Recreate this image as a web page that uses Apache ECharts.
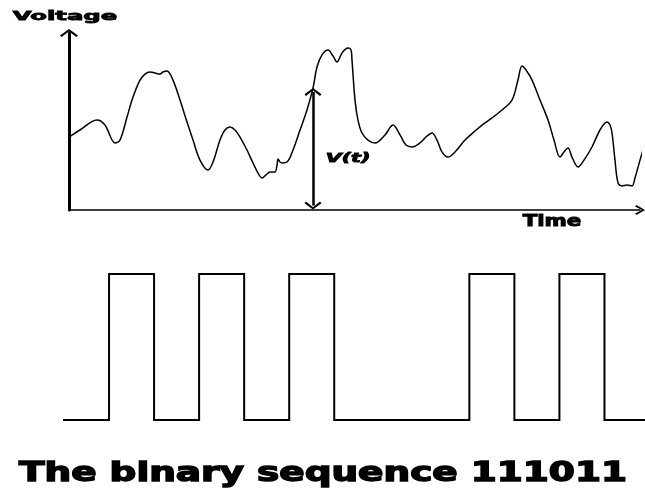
<!DOCTYPE html>
<html>
<head>
<meta charset="utf-8">
<script src="https://cdn.jsdelivr.net/npm/echarts@6/dist/echarts.min.js"></script>
<style>
html,body{margin:0;padding:0;background:#fff;}
#chart{width:645px;height:494px;}
</style>
</head>
<body>
<div id="chart"></div>
<script>
// ---- Data ----
const timeValues = [0,1.93,4.9,6.3,8.06,8.93,10.16,11.21,12.43,13.31,14.19,15.06,15.94,16.46,17.16,18.21,19.44,20.67,21.72,22.94,24.34,25.22,26.44,27.32,28.2,29.07,29.95,31.17,32.22,33.1,33.8,34.5,35.2,36.08,36.43,36.6,36.95,37.3,38.18,39.23,40.46,41.68,42.73,43.43,44.31,45.36,46.24,46.94,47.81,48.86,49.39,49.56,50.09,50.61,51.31,52.36,53.59,55.34,56.74,57.97,59.02,60.07,61.47,62.7,63.57,64.45,65.32,66.37,67.6,69.35,71.1,72.33,74.08,75.83,77.58,78.63,79.33,80.04,81.09,82.49,83.89,84.94,85.99,86.69,87.39,88.09,89.14,90.19,91.59,92.99,94.22,94.75,95.1,95.62,96.15,96.85,97.72,98.6,99.12,100,100.88];
const voltageValues = [4.12,4.52,5.08,4.8,3.79,3.95,5.25,6.38,7.34,7.68,7.8,7.74,7.68,7.8,7.85,7.34,6.21,4.97,3.95,2.82,2.26,2.71,3.95,4.52,4.69,4.52,4.12,3.39,2.66,2.09,1.81,1.98,2.15,2.15,2.54,2.88,2.71,2.66,2.71,3.39,4.52,5.65,6.89,8.08,8.76,9.04,8.7,8.36,8.87,9.15,9.04,8.47,6.21,5.08,4.35,3.95,3.79,4.24,4.8,4.24,3.67,3.56,3.79,4.18,4.35,3.95,3.28,2.99,3.28,3.95,4.46,4.8,5.2,5.65,6.21,7.34,8.14,7.91,7.34,6.21,5.08,3.95,2.99,3.28,3.5,2.99,2.43,2.82,3.56,4.52,4.97,4.8,4.35,2.82,1.53,1.36,1.41,1.36,1.81,2.82,3.79];
const vArrowTime = 42.73;
const vArrowRange = [0.25, 6.67];
const bits = [1,1,1,0,1,1];
const bitTailEnd = 6.45;
const labels = {
  yName: 'Voltage',
  xName: 'Time',
  vLabel: 'V(t)',
  title: 'The binary sequence 111011'
};

// ---- Build series data ----
const curveData = timeValues.map((t, i) => [t, voltageValues[i]]);
const waveData = [[0, 0]];
bits.forEach((b, i) => {
  waveData.push([i + 0.5, 0], [i + 0.5, b], [i + 1, b], [i + 1, 0]);
});
waveData.push([bitTailEnd, 0]);

// ---- Helpers ----
const chevY = 'path://M0,6.4 L9,0 L18,6.4 L16.4,8 L9,2.4 L1.6,8 Z';
const chevX = 'path://M0,8.4 L5,0 L10,8.4 L8.5,10 L5,3 L1.5,10 Z';
const measureCtx = document.createElement('canvas').getContext('2d');
function fitScale(text, font, target, stroke) {
  measureCtx.font = font;
  const w = measureCtx.measureText(text).width + stroke;
  return target / w;
}
function textEl(text, cx, cy, size, target, italic, stroke) {
  const fam = '"DejaVu Sans"';
  const font = (italic ? 'italic ' : '') + 'bold ' + size + 'px ' + fam;
  return {
    type: 'text',
    x: cx, y: cy,
    scaleX: fitScale(text, font, target, stroke),
    silent: true,
    style: {
      text: text,
      fill: '#000',
      stroke: '#000',
      lineWidth: stroke,
      font: font,
      align: 'center',
      verticalAlign: 'middle'
    }
  };
}

const chart = echarts.init(document.getElementById('chart'), null, {renderer: 'canvas'});
chart.setOption({
  animation: false,
  backgroundColor: '#fff',
  grid: [
    {left: 69, right: 5, top: 33, bottom: 284},
    {left: 64, right: 0, top: 274, bottom: 74}
  ],
  xAxis: [
    {
      type: 'value', gridIndex: 0, min: 0, max: 100,
      axisLine: {show: true, symbol: ['none', chevX], symbolSize: [10, 10], lineStyle: {color: '#000', width: 1.5}},
      axisTick: {show: false}, axisLabel: {show: false}, splitLine: {show: false}
    },
    {type: 'value', gridIndex: 1, min: 0, max: bitTailEnd, show: false}
  ],
  yAxis: [
    {
      type: 'value', gridIndex: 0, min: 0, max: 10,
      axisLine: {show: true, symbol: ['none', chevY], symbolSize: [18, 8], lineStyle: {color: '#000', width: 3}},
      axisTick: {show: false}, axisLabel: {show: false}, splitLine: {show: false}
    },
    {type: 'value', gridIndex: 1, min: 0, max: 1, show: false}
  ],
  series: [
    {
      type: 'line', xAxisIndex: 0, yAxisIndex: 0,
      data: curveData, smooth: 0.35, symbol: 'none', clip: false,
      lineStyle: {color: '#000', width: 1.5},
      markLine: {
        silent: true,
        symbol: [chevY, chevY],
        symbolSize: [17, 8],
        label: {show: false},
        lineStyle: {color: '#000', width: 2.5, type: 'solid'},
        data: [[{coord: [vArrowTime, vArrowRange[0]]}, {coord: [vArrowTime, vArrowRange[1]]}]]
      }
    },
    {
      type: 'line', xAxisIndex: 1, yAxisIndex: 1,
      data: waveData, symbol: 'none', clip: false,
      lineStyle: {color: '#000', width: 2, join: 'miter', cap: 'square'}
    }
  ],
  graphic: [
    textEl(labels.yName, 65, 17, 12.5, 106, false, 0.8),
    textEl(labels.xName, 552, 222.5, 15, 60, false, 0.9),
    textEl(labels.vLabel, 348, 159, 11.5, 46, true, 0.8),
    textEl(labels.title, 323, 474, 26, 610, false, 1.4)
  ]
});
</script>
</body>
</html>
